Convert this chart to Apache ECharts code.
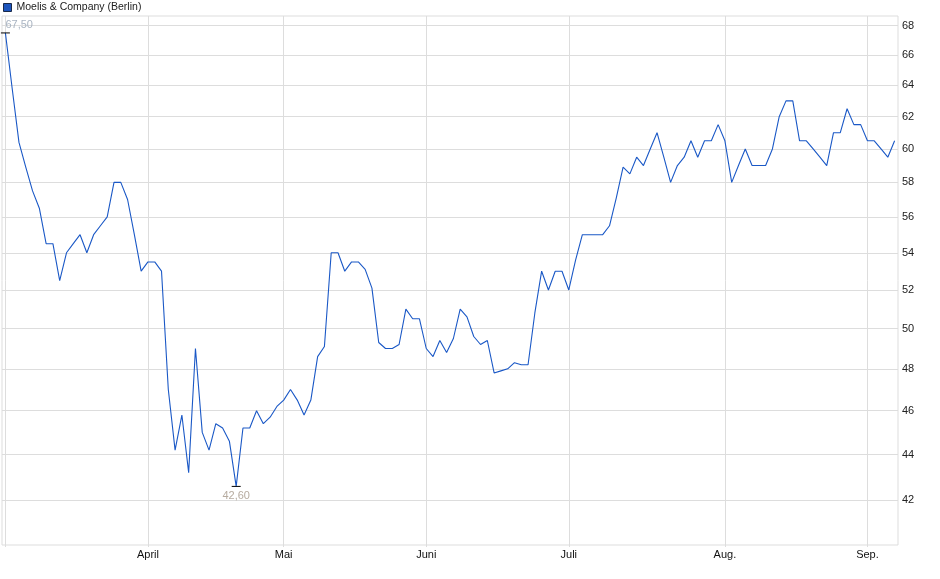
<!DOCTYPE html>
<html>
<head>
<meta charset="utf-8">
<script src="https://cdn.jsdelivr.net/npm/echarts@6/dist/echarts.min.js"></script>
<style>html,body{margin:0;padding:0;background:#fff}#c{width:940px;height:579px}</style>
</head>
<body>
<div id="c"></div>
<script>
const seriesName = 'Moelis & Company (Berlin)';

// Trading days (Börse Berlin), 2025
const datesMar = ['2025-03-03','2025-03-04','2025-03-05','2025-03-06','2025-03-07','2025-03-10','2025-03-11','2025-03-12','2025-03-13','2025-03-14','2025-03-17','2025-03-18','2025-03-19','2025-03-20','2025-03-21','2025-03-24','2025-03-25','2025-03-26','2025-03-27','2025-03-28','2025-03-31'];
const datesApr = ['2025-04-01','2025-04-02','2025-04-03','2025-04-04','2025-04-07','2025-04-08','2025-04-09','2025-04-10','2025-04-11','2025-04-14','2025-04-15','2025-04-16','2025-04-17','2025-04-22','2025-04-23','2025-04-24','2025-04-25','2025-04-28','2025-04-29','2025-04-30'];
const datesMay = ['2025-05-02','2025-05-05','2025-05-06','2025-05-07','2025-05-08','2025-05-09','2025-05-12','2025-05-13','2025-05-14','2025-05-15','2025-05-16','2025-05-19','2025-05-20','2025-05-21','2025-05-22','2025-05-23','2025-05-26','2025-05-27','2025-05-28','2025-05-29','2025-05-30'];
const datesJun = ['2025-06-02','2025-06-03','2025-06-04','2025-06-05','2025-06-06','2025-06-09','2025-06-10','2025-06-11','2025-06-12','2025-06-13','2025-06-16','2025-06-17','2025-06-18','2025-06-19','2025-06-20','2025-06-23','2025-06-24','2025-06-25','2025-06-26','2025-06-27','2025-06-30'];
const datesJul = ['2025-07-01','2025-07-02','2025-07-03','2025-07-04','2025-07-07','2025-07-08','2025-07-09','2025-07-10','2025-07-11','2025-07-14','2025-07-15','2025-07-16','2025-07-17','2025-07-18','2025-07-21','2025-07-22','2025-07-23','2025-07-24','2025-07-25','2025-07-28','2025-07-29','2025-07-30','2025-07-31'];
const datesAug = ['2025-08-01','2025-08-04','2025-08-05','2025-08-06','2025-08-07','2025-08-08','2025-08-11','2025-08-12','2025-08-13','2025-08-14','2025-08-15','2025-08-18','2025-08-19','2025-08-20','2025-08-21','2025-08-22','2025-08-25','2025-08-26','2025-08-27','2025-08-28','2025-08-29'];
const datesSep = ['2025-09-01','2025-09-02','2025-09-03','2025-09-04','2025-09-05'];

const pricesMar = [67.5,63.8,60.4,58.9,57.5,56.5,54.5,54.5,52.5,54.0,54.5,55.0,54.0,55.0,55.5,56.0,58.0,58.0,57.0,55.0,53.0];
const pricesApr = [53.5,53.5,53.0,47.0,44.2,45.8,43.2,49.0,45.0,44.2,45.4,45.2,44.6,42.6,45.2,45.2,46.0,45.4,45.7,46.2];
const pricesMay = [46.5,47.0,46.5,45.8,46.5,48.6,49.1,54.0,54.0,53.0,53.5,53.5,53.1,52.1,49.3,49.0,49.0,49.2,51.0,50.5,50.5];
const pricesJun = [49.0,48.6,49.4,48.8,49.5,51.0,50.6,49.6,49.2,49.4,47.8,47.9,48.0,48.3,48.2,48.2,50.8,53.0,52.0,53.0,53.0];
const pricesJul = [52.0,53.6,55.0,55.0,55.0,55.0,55.5,57.1,58.9,58.5,59.5,59.0,60.0,61.0,59.5,58.0,59.0,59.5,60.5,59.5,60.5,60.5,61.5];
const pricesAug = [60.5,58.0,59.0,60.0,59.0,59.0,59.0,60.0,62.0,63.0,63.0,60.5,60.5,60.0,59.5,59.0,61.0,61.0,62.5,61.5,61.5];
const pricesSep = [60.5,60.5,60.0,59.5,60.5];

const yTicks = [42,44,46,48,50,52,54,56,58,60,62,64,66,68];
const monthNames = {'03':'März','04':'April','05':'Mai','06':'Juni','07':'Juli','08':'Aug.','09':'Sep.'};

const dates = [].concat(datesMar, datesApr, datesMay, datesJun, datesJul, datesAug, datesSep);
const prices = [].concat(pricesMar, pricesApr, pricesMay, pricesJun, pricesJul, pricesAug, pricesSep);

const isMonthStart = (i) => i === 0 || dates[i].slice(5, 7) !== dates[i - 1].slice(5, 7);
const monthStarts = dates.filter((d, i) => isMonthStart(i));
const fmt = (v) => v.toFixed(2).replace('.', ',');
const FONT = 'Liberation Sans, Arial, sans-serif';

const chart = echarts.init(document.getElementById('c'), null, { renderer: 'canvas' });
chart.setOption({
  animation: false,
  backgroundColor: '#fff',
  textStyle: { fontFamily: FONT },
  legend: {
    data: [seriesName],
    left: 3, top: 2, padding: 0,
    icon: 'rect', itemWidth: 8, itemHeight: 8,
    itemStyle: { color: '#1d55bd', borderColor: '#1a2a4a', borderWidth: 1 },
    textStyle: { fontFamily: FONT, fontSize: 10.5, color: '#222', padding: [1, 0, 0, 0] },
    selectedMode: false
  },
  grid: {
    left: 2, right: 42, top: 16, bottom: 34,
    show: true, borderColor: '#dddddd', borderWidth: 1, backgroundColor: 'transparent'
  },
  xAxis: {
    type: 'category',
    data: dates,
    boundaryGap: true,
    axisLine: { show: false },
    axisTick: {
      show: true, alignWithLabel: true, length: 2,
      interval: (i) => isMonthStart(i),
      lineStyle: { color: '#dddddd' }
    },
    axisLabel: {
      interval: (i) => i > 0 && isMonthStart(i),
      formatter: (v) => monthNames[v.slice(5, 7)],
      fontFamily: FONT, fontSize: 11, color: '#111', margin: 4
    },
    splitLine: { show: false }
  },
  yAxis: {
    type: 'log',
    position: 'right',
    min: 40.14, max: 68.67,
    axisLine: { show: false },
    axisTick: { show: false },
    axisLabel: { show: false },
    splitLine: { show: false }
  },
  series: [{
    name: seriesName,
    type: 'line',
    data: prices,
    z: 3,
    symbol: 'none',
    showSymbol: false,
    lineStyle: { color: '#1a58c6', width: 1.1 },
    itemStyle: { color: '#1d55bd' },
    emphasis: { disabled: true },
    markLine: {
      z: 1,
      silent: true,
      animation: false,
      symbol: ['none', 'none'],
      lineStyle: { color: '#dddddd', width: 1, type: 'solid' },
      emphasis: { disabled: true },
      data: yTicks.map(v => ({
        yAxis: v,
        label: { show: true, position: 'end', distance: 4, formatter: String(v), fontFamily: FONT, fontSize: 11, color: '#222' }
      })).concat(monthStarts.map(d => ({
        xAxis: d,
        label: { show: false }
      })))
    },
    markPoint: {
      silent: true,
      animation: false,
      symbol: 'rect',
      symbolSize: [9, 1],
      itemStyle: { color: '#000' },
      data: [
        { type: 'max', label: { show: true, position: 'top', align: 'left', distance: 2, offset: [0, 0], formatter: (p) => fmt(p.value), fontFamily: FONT, fontSize: 11, color: '#a9b4c2' } },
        { type: 'min', label: { show: true, position: 'bottom', distance: 4, formatter: (p) => fmt(p.value), fontFamily: FONT, fontSize: 11, color: '#b6ab9f' } }
      ]
    }
  }]
});
</script>
</body>
</html>
